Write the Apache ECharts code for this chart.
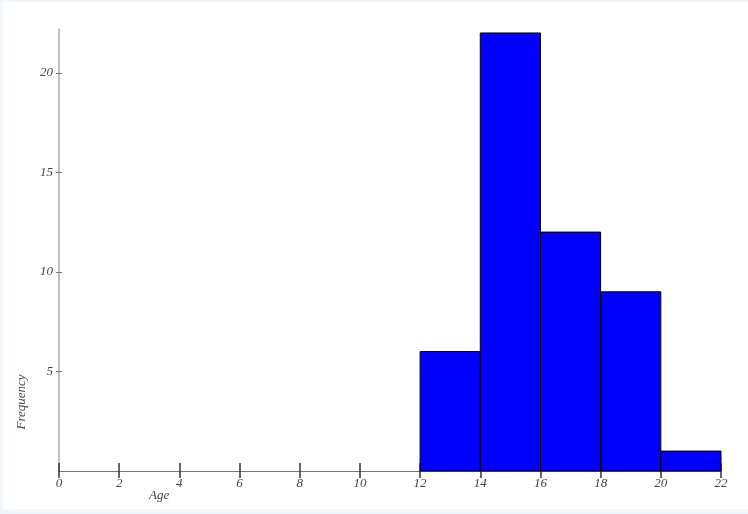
<!DOCTYPE html>
<html>
<head>
<meta charset="utf-8">
<script src="https://cdn.jsdelivr.net/npm/echarts@6/dist/echarts.min.js"></script>
<style>
  html, body { margin: 0; padding: 0; background: #f0f6fc; }
  #chart { position: absolute; left: 3px; top: 2px; width: 745px; height: 507px; background: #ffffff; }
</style>
</head>
<body>
<div id="chart"></div>
<script>
// histogram bins: [start, end] and counts
var binStart = [12, 14, 16, 18, 20];
var binEnd   = [14, 16, 18, 20, 22];
var counts   = [6, 22, 12, 9, 1];
var xTicks   = [0, 2, 4, 6, 8, 10, 12, 14, 16, 18, 20, 22];
var yTicks   = [5, 10, 15, 20];

var data = [];
for (var i = 0; i < counts.length; i++) {
  data.push([binStart[i], binEnd[i], counts[i]]);
}

var labelFont = { fontFamily: 'Liberation Serif', fontStyle: 'italic', fontSize: 13, color: '#444' };

var option = {
  animation: false,
  grid: { left: 56, right: 27, top: 27, bottom: 38 },
  xAxis: [
    {
      type: 'value', min: 0, max: 22, interval: 2,
      axisLine: { show: true, lineStyle: { color: '#777', width: 1 } },
      axisTick: { show: true, length: 7, lineStyle: { color: '#333', width: 1.5 } },
      axisLabel: Object.assign({ margin: 6, customValues: xTicks }, labelFont),
      splitLine: { show: false }
    },
    {
      type: 'value', min: 0, max: 22, interval: 2, position: 'bottom',
      axisLine: { show: false },
      axisTick: { show: true, inside: true, length: 8, lineStyle: { color: '#333', width: 1.5 } },
      axisLabel: { show: false },
      splitLine: { show: false }
    }
  ],
  yAxis: [
    {
      type: 'value', min: 0, max: 22.2,
      axisLine: { show: true, lineStyle: { color: '#aaa', width: 1.5 } },
      axisTick: { show: true, length: 3, customValues: yTicks, lineStyle: { color: '#777' } },
      axisLabel: Object.assign({ margin: 6, customValues: yTicks }, labelFont),
      splitLine: { show: false }
    },
    {
      type: 'value', min: 0, max: 22.2, position: 'left',
      axisLine: { show: false },
      axisTick: { show: true, inside: true, length: 3, customValues: yTicks, lineStyle: { color: '#777' } },
      axisLabel: { show: false },
      splitLine: { show: false }
    }
  ],
  graphic: [
    { type: 'text', left: 146, top: 487, style: { text: 'Age', font: 'italic 13px "Liberation Serif"', fill: '#444' } },
    { type: 'text', x: 19, y: 400, rotation: Math.PI / 2,
      style: { text: 'Frequency', font: 'italic 13px "Liberation Serif"', fill: '#444', align: 'center', verticalAlign: 'middle' } }
  ],
  series: [
    {
      type: 'custom',
      xAxisIndex: 0,
      yAxisIndex: 0,
      renderItem: function (params, api) {
        var p0 = api.coord([api.value(0), api.value(2)]);
        var p1 = api.coord([api.value(1), 0]);
        return {
          type: 'rect',
          shape: { x: p0[0], y: p0[1], width: p1[0] - p0[0], height: p1[1] - p0[1] },
          style: { fill: '#0000ff', stroke: '#000', lineWidth: 1 }
        };
      },
      encode: { x: [0, 1], y: 2 },
      data: data
    }
  ]
};

var mychart = echarts.init(document.getElementById('chart'));
mychart.setOption(option);
</script>
</body>
</html>
